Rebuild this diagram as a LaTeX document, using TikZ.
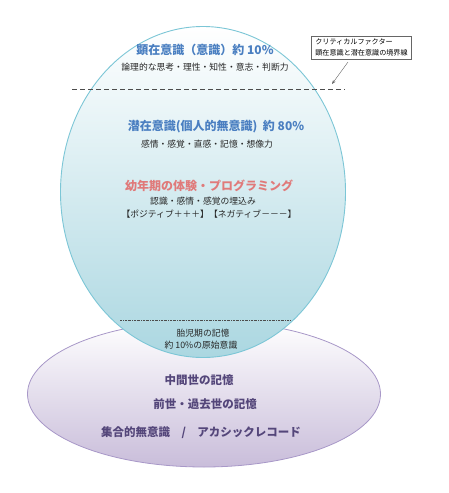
\documentclass[tikz,border=0pt]{standalone}
\usepackage{fontspec}
\setmainfont{Noto Sans CJK JP}
\usepackage{tikz}
\usetikzlibrary{arrows.meta}

\definecolor{concblue}{HTML}{4A7FC1}
\definecolor{childpink}{HTML}{E07A7A}
\definecolor{deeppurple}{HTML}{54467A}
\definecolor{bluerim}{HTML}{7CC6D6}
\definecolor{bluelow}{HTML}{ABD7E1}
\definecolor{purplerim}{HTML}{A898C8}
\definecolor{purplelow}{HTML}{C9BDDA}

\tikzset{
  headline/.style={font=\fontsize{12}{14}\selectfont\bfseries},
  smalltext/.style={font=\fontsize{8.8}{10}\selectfont, text=black!85},
  layertext/.style={font=\fontsize{11.5}{14}\selectfont\bfseries, text=deeppurple},
}

\begin{document}
\begin{tikzpicture}[x=1pt,y=-1pt]
        \useasboundingbox (0,0) rectangle (449,493);

        % collective / past layers, then the mind on top
        \shade[top color=white, bottom color=purplelow, draw=purplerim, line width=0.8pt]
          (204,394) ellipse [x radius=176.5, y radius=73];
        \shade[top color=white, bottom color=bluelow, draw=bluerim, line width=0.9pt]
          (203,192) ellipse [x radius=142.5, y radius=165.5];

        \coordinate (critL) at (72,89);
        \coordinate (critR) at (345,89);
        \coordinate (critP) at (332,84);
        \coordinate (critS) at (348,62);
        \coordinate (fetalL) at (120,320);
        \coordinate (fetalR) at (290,320);

        \draw[black!70, dash pattern=on 5pt off 3pt] (critL) -- (critR);
        \draw[black!70, dash pattern=on 2pt off 1pt on 0.5pt off 1pt] (fetalL) -- (fetalR);

        \begin{scope}[every node/.style={inner sep=0pt}]
          \node[headline, text=concblue] (conscious) at (205,50) {顕在意識（意識）約 10\%};
          \node[smalltext] (logic) at (205,67) {論理的な思考・理性・知性・意志・判断力};
          \node[headline, text=concblue] (subconscious) at (216,127) {潜在意識(個人的無意識)\ \ 約 80\%};
          \node[smalltext] (feeling) at (207,144) {感情・感覚・直感・記憶・想像力};
          \node[headline, text=childpink] (childhood) at (209,186) {幼年期の体験・プログラミング};
          \node[smalltext] (imprint) at (203,201) {認識・感情・感覚の埋込み};
          \node[smalltext] (posneg) at (209,214) {【ポジティブ＋＋＋】【ネガティブ－－－】};
          \node[smalltext] (fetal) at (203,333) {胎児期の記憶};
          \node[smalltext] (primal) at (201,345) {約 10\%の原始意識};
          \node[layertext] (between) at (199,380) {中間世の記憶};
          \node[layertext] (pastlife) at (205,404) {前世・過去世の記憶};
          \node[layertext] (akashic) at (201,433) {集合的無意識\quad/\quad アカシックレコード};
        \end{scope}

        \node[draw=black!60, fill=white, align=left, inner xsep=4pt, inner ysep=3pt,
              font=\fontsize{7.1}{10.5}\selectfont] (critical) at (361.5,47.5)
              {クリティカルファクター\\顕在意識と潜在意識の境界線};
        \draw[black!60, -{Stealth[length=4pt]}] (critS) -- (critP);

      \end{tikzpicture}
\end{document}
